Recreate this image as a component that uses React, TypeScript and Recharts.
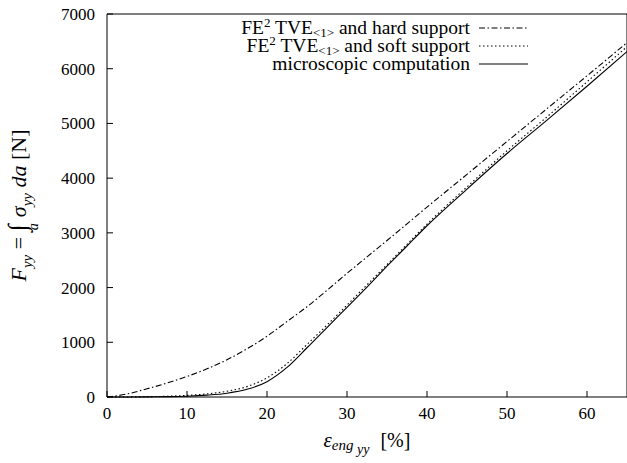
import { LineChart, Line, XAxis, YAxis, Legend } from 'recharts'

// strain [%] sampled along the tensile test
const strain = [0, 2.5, 5, 7.5, 10, 12.5, 15, 17.5, 20, 22.5, 25, 27.5, 30, 32.5, 35, 37.5, 40, 45, 50, 55, 60, 65]

// reaction force F_yy [N]
const hardSupport = [0, 55, 150, 255, 375, 515, 680, 880, 1110, 1380, 1650, 1950, 2260, 2560, 2860, 3165, 3470, 4070, 4670, 5270, 5870, 6476]
const softSupport = [0, 1, 5, 14, 30, 58, 105, 190, 350, 610, 960, 1315, 1680, 2050, 2420, 2790, 3160, 3840, 4500, 5120, 5760, 6403]
const microscopic = [0, 0, 2, 6, 15, 35, 70, 140, 280, 540, 900, 1270, 1640, 2010, 2390, 2760, 3130, 3800, 4450, 5060, 5680, 6312]

const xTicks = [0, 10, 20, 30, 40, 50, 60]
const yTicks = [0, 1000, 2000, 3000, 4000, 5000, 6000, 7000]

const data = strain.map((x, i) => ({
  x,
  hard: hardSupport[i],
  soft: softSupport[i],
  micro: microscopic[i],
}))

const SERIES = [
  { key: 'hard', label: 'and hard support', dash: '6 2.5 1.5 2.5', fe2: true },
  { key: 'soft', label: 'and soft support', dash: '1.5 2.5', fe2: true },
  { key: 'micro', label: 'microscopic computation', dash: undefined, fe2: false },
]

const FONT = '"Liberation Serif", "Times New Roman", serif'
const TICK = { fill: '#000', fontSize: 17, fontFamily: FONT, style: { fontFamily: FONT } }

function KeyBox() {
  return (
    <svg width={627} height={80} style={{ display: 'block', fontFamily: FONT }}>
      {SERIES.map((s, i) => {
        const y = 28 + i * 18
        return (
          <g key={s.key}>
            <text x={470} y={y + 6} textAnchor="end" fontSize={19.5} fill="#000">
              {s.fe2 ? (
                <>
                  FE<tspan dy={-7} fontSize={13}>2</tspan>
                  <tspan dy={7}>{' TVE'}</tspan>
                  <tspan dy={3} fontSize={13}>{'<1>'}</tspan>
                  <tspan dy={-3}>{' ' + s.label}</tspan>
                </>
              ) : (
                s.label
              )}
            </text>
            <line x1={479} x2={528} y1={y} y2={y} stroke="#000" strokeWidth={1.1} strokeDasharray={s.dash} />
          </g>
        )
      })}
    </svg>
  )
}

function ForceLabel(props: any) {
  const vb = props.viewBox || { x: 0, y: 14, width: 107, height: 383 }
  const cx = vb.x + 26
  const cy = vb.y + vb.height / 2
  return (
    <text
      transform={`translate(${cx},${cy}) rotate(-90)`}
      textAnchor="middle"
      fill="#000"
      fontSize={22}
      style={{ fontFamily: FONT }}
    >
      <tspan fontStyle="italic">F</tspan>
      <tspan fontStyle="italic" fontSize={15} dy={6}>yy</tspan>
      <tspan dy={-6}>{' = '}</tspan>
      <tspan fontSize={26}>∫</tspan>
      <tspan fontStyle="italic" fontSize={14} dy={12} dx={-6}>a</tspan>
      <tspan fontStyle="italic" dy={-12} dx={6}>σ</tspan>
      <tspan fontStyle="italic" fontSize={15} dy={6}>yy</tspan>
      <tspan fontStyle="italic" dy={-6}>{' da'}</tspan>
      <tspan>{' [N]'}</tspan>
    </text>
  )
}

function StrainLabel(props: any) {
  const vb = props.viewBox || { x: 107, y: 397, width: 520, height: 66 }
  const cx = vb.x + vb.width / 2
  return (
    <text x={cx} y={vb.y + 50} textAnchor="middle" fill="#000" fontSize={21} style={{ fontFamily: FONT }}>
      <tspan fontStyle="italic">ε</tspan>
      <tspan fontStyle="italic" fontSize={15} dy={3}>eng</tspan>
      <tspan fontStyle="italic" fontSize={14} dy={4}>{' yy'}</tspan>
      <tspan dy={-7} dx={6} fontSize={20}>{' [%]'}</tspan>
    </text>
  )
}

export default function App() {
  return (
    <div style={{ position: 'absolute', left: 0, top: 0, width: 627, height: 463, overflow: 'hidden', background: '#fff', fontFamily: FONT }}>
      <LineChart width={640} height={463} data={data} margin={{ top: 0, right: 0, left: 0, bottom: 0 }}>
        <XAxis
          dataKey="x"
          type="number"
          domain={[0, 65]}
          ticks={xTicks}
          height={66}
          tick={TICK}
          tickSize={-6}
          tickMargin={16}
          axisLine={{ stroke: '#000' }}
          tickLine={{ stroke: '#000' }}
          label={{ content: <StrainLabel /> }}
        />
        <XAxis
          xAxisId="top"
          orientation="top"
          type="number"
          domain={[0, 65]}
          ticks={xTicks}
          height={14}
          tick={false}
          tickSize={-6}
          axisLine={{ stroke: '#000' }}
          tickLine={{ stroke: '#000' }}
        />
        <YAxis
          type="number"
          domain={[0, 7000]}
          ticks={yTicks}
          width={107}
          tick={TICK}
          tickSize={-6}
          tickMargin={18}
          axisLine={{ stroke: '#000' }}
          tickLine={{ stroke: '#000' }}
          label={{ content: <ForceLabel /> }}
        />
        <YAxis
          yAxisId="right"
          orientation="right"
          type="number"
          domain={[0, 7000]}
          ticks={yTicks}
          width={13}
          tick={false}
          tickSize={-6}
          axisLine={{ stroke: '#000' }}
          tickLine={{ stroke: '#000' }}
        />
        <Legend
          verticalAlign="middle"
          align="center"
          wrapperStyle={{ left: 0, top: 0, width: 627, height: 80 }}
          content={<KeyBox />}
        />
        {SERIES.map((s) => (
          <Line
            key={s.key}
            type="monotone"
            dataKey={s.key}
            stroke="#000"
            strokeWidth={1.1}
            strokeDasharray={s.dash}
            dot={false}
            activeDot={false}
            isAnimationActive={false}
          />
        ))}
      </LineChart>
    </div>
  )
}
